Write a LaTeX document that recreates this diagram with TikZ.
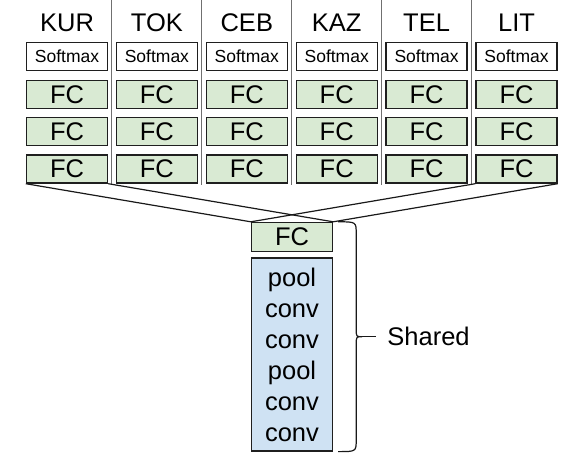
\documentclass[tikz,border=0pt]{standalone}
\usepackage{fontspec}
\setmainfont{Liberation Sans}
\usetikzlibrary{positioning,calc}
\definecolor{fcgreen}{HTML}{D9EAD3}
\definecolor{convblue}{HTML}{CFE2F3}
\definecolor{sepgray}{HTML}{707070}

\begin{document}
\begin{tikzpicture}[x=1pt,y=-1pt,
    langlabel/.style={anchor=base,inner sep=0pt,font=\fontsize{25.5}{30}\selectfont},
    softmaxbox/.style={rectangle,draw=black!88,line width=1.4pt,fill=white,minimum width=81pt,minimum height=28pt,inner sep=0pt,font=\fontsize{17.5}{20}\selectfont},
    fclayer/.style={rectangle,draw=black!88,line width=1.4pt,fill=fcgreen,minimum width=81pt,minimum height=28pt,inner sep=0pt,font=\fontsize{25.5}{30}\selectfont},
    convstack/.style={rectangle,draw=black!88,line width=1.4pt,fill=convblue,minimum width=81pt,minimum height=193pt,inner sep=0pt,align=center,font=\fontsize{25.5}{31}\selectfont},
    separator/.style={draw=sepgray,line width=1.1pt},
    link/.style={draw=black!90,line width=1.2pt}
    ]

    \useasboundingbox (0,0) rectangle (581,453);

    \foreach \lang [count=\i from 0] in {KUR,TOK,CEB,KAZ,TEL,LIT} {
      \node (lang\i) [langlabel] at (67+89.9*\i,31) {\lang};
      \node (soft\i) [softmaxbox] at (67+89.9*\i,56.5) {Softmax};
      \node (fca\i) [fclayer] at (67+89.9*\i,94.5) {FC};
      \node (fcb\i) [fclayer] at (67+89.9*\i,131.5) {FC};
      \node (fcc\i) [fclayer] at (67+89.9*\i,169) {FC};
    }

    \foreach \x in {1,...,5}
      \draw[separator] (22+89.9*\x,0) -- (22+89.9*\x,185);

    \node (fcsh) [fclayer,minimum height=29pt] at (292,237) {FC};
    \node (convs) [convstack,below=5pt of fcsh] {pool\\conv\\conv\\pool\\conv\\conv};

    \draw[link] (fcc0.south west) -- (fcsh.north west);
    \draw[link] (fcc0.south east) -- (fcsh.north east);
    \draw[link] (fcc5.south west) -- (fcsh.north west);
    \draw[link] (fcc5.south east) -- (fcsh.north east);

    \coordinate (btop) at ([xshift=5pt]fcsh.north east);
    \coordinate (bbot) at ([xshift=5pt]convs.south east);
    \coordinate (bmid) at ($(btop)!0.5!(bbot)$);
    \coordinate (btip) at ($(bmid)+(24,0)$);

    \draw[link] (btop) .. controls ($(btop)+(18,0)$) .. ($(btop)+(18,12)$)
      -- ($(bmid)+(18,-8)$) .. controls ($(bmid)+(18,0)$) .. (btip)
      .. controls ($(bmid)+(18,0)$) .. ($(bmid)+(18,8)$)
      -- ($(bbot)+(18,-12)$) .. controls ($(bbot)+(18,0)$) .. (bbot);

    \node (shared) [right=25pt of btip,inner sep=0pt,font=\fontsize{25.5}{30}\selectfont] {Shared};
    \draw[link,shorten >=11pt] (btip) -- (shared.west);

  \end{tikzpicture}
\end{document}
